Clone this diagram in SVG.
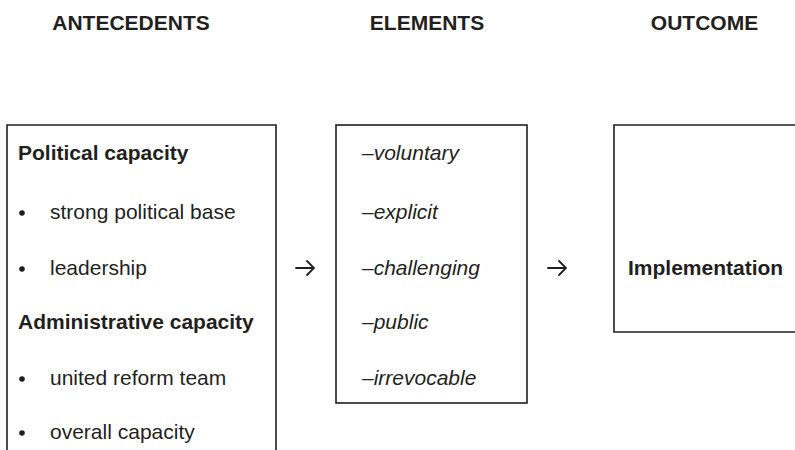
<svg xmlns="http://www.w3.org/2000/svg" width="795" height="450" viewBox="0 0 795 450">
  <style>
    .box { fill: none; stroke: #231f20; stroke-width: 1.6; }
    .head { font-family: "Liberation Sans", Arial, sans-serif; font-size: 21px; font-weight: bold; fill: #231f20; text-anchor: middle; }
    .bold { font-family: "Liberation Sans", Arial, sans-serif; font-size: 21px; font-weight: bold; fill: #231f20; }
    .item { font-family: "Liberation Sans", Arial, sans-serif; font-size: 21px; fill: #231f20; }
    .ital { font-family: "Liberation Sans", Arial, sans-serif; font-size: 21px; font-style: italic; fill: #231f20; }
    .dot { fill: #231f20; }
    .arrow { fill: none; stroke: #231f20; stroke-width: 1.8; stroke-linecap: round; stroke-linejoin: miter; }
  </style>
  <rect width="795" height="450" fill="#fff"/>

  <!-- column headings -->
  <g id="headings">
    <text class="head" x="131" y="30">ANTECEDENTS</text>
    <text class="head" x="427" y="30">ELEMENTS</text>
    <text class="head" x="704.5" y="30">OUTCOME</text>
  </g>

  <!-- antecedents box (runs off the bottom edge) -->
  <g id="antecedents">
    <path class="box" d="M7,460 V125 H276 V460"/>
    <text class="bold" x="18" y="160">Political capacity</text>
    <circle class="dot" cx="22" cy="213" r="2.8"/>
    <text class="item" x="50" y="219">strong political base</text>
    <circle class="dot" cx="22" cy="269" r="2.8"/>
    <text class="item" x="50" y="275">leadership</text>
    <text class="bold" x="18" y="329">Administrative capacity</text>
    <circle class="dot" cx="22" cy="379" r="2.8"/>
    <text class="item" x="50" y="385">united reform team</text>
    <circle class="dot" cx="22" cy="433" r="2.8"/>
    <text class="item" x="50" y="439">overall capacity</text>
  </g>

  <!-- elements box -->
  <g id="elements">
    <rect class="box" x="336" y="125" width="191" height="278"/>
    <text class="ital" x="362" y="160">–voluntary</text>
    <text class="ital" x="362" y="219">–explicit</text>
    <text class="ital" x="362" y="275">–challenging</text>
    <text class="ital" x="362" y="329">–public</text>
    <text class="ital" x="362" y="385">–irrevocable</text>
  </g>

  <!-- outcome box (runs off the right edge) -->
  <g id="outcome">
    <path class="box" d="M805,125 H614 V332 H805"/>
    <text class="bold" x="628" y="275">Implementation</text>
  </g>

  <!-- connectors -->
  <g id="connectors">
    <path class="arrow" d="M296,268 H314 M307,261 L314,268 L307,275"/>
    <path class="arrow" d="M548,268 H566 M559,261 L566,268 L559,275"/>
  </g>
</svg>
